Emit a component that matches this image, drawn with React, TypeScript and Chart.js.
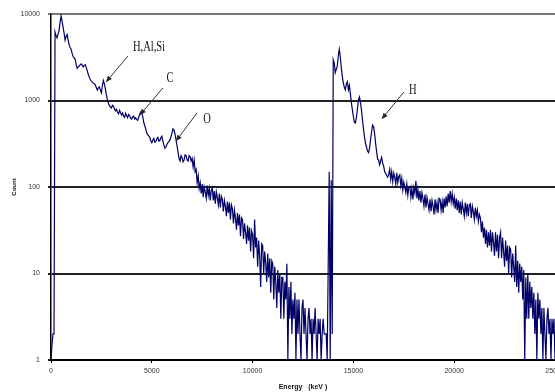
import React, { useEffect, useRef } from "react";
import { Chart, registerables } from "chart.js";

Chart.register(...registerables);

// ---- data -------------------------------------------------------------
const CHANNEL_WIDTH_KEV = 50;
const LOW_BAND_START_KEV = 0;
// counts per 50 keV channel, 0 .. 13700 keV (one row = 500 keV)
const LOW_BAND_COUNTS = [
  1, 1.5, 2, 2, 6200, 5600, 5300, 5900, 6400, 8000,
  9500, 8200, 7000, 6000, 5000, 5500, 5800, 5000, 4400, 4100,
  3900, 3500, 3200, 3100, 3000, 2600, 2350, 2450, 2500, 2600,
  2650, 2550, 2450, 2550, 2600, 2400, 2200, 2000, 1850, 1750,
  1680, 1620, 1580, 1560, 1520, 1400, 1320, 1400, 1440, 1320,
  1230, 1500, 1700, 1550, 1350, 1150, 1010, 930, 870, 840,
  820, 880, 860, 800, 760, 790, 730, 700, 770, 720,
  680, 720, 660, 640, 710, 670, 630, 690, 670, 620,
  610, 650, 660, 610, 630, 600, 590, 640, 690, 740,
  730, 650, 560, 510, 470, 420, 400, 390, 375, 340,
  325, 350, 365, 330, 335, 360, 375, 340, 345, 370,
  385, 340, 305, 280, 290, 310, 325, 335, 350, 380,
  420, 470, 455, 410, 355, 300, 255, 215, 200, 230,
  220, 195, 205, 235, 230, 205, 200, 230, 225, 200,
  215, 170, 205, 150, 160, 112, 135, 96, 112, 84,
  108, 76, 100, 88, 74, 104, 80, 96, 70, 92,
  98, 70, 90, 64, 88, 76, 62, 84, 58, 78,
  72, 52, 70, 60, 46, 68, 50, 66, 42, 62,
  56, 38, 54, 44, 32, 50, 36, 48, 27, 44,
  42, 25, 38, 30, 22, 36, 24, 34, 18, 31,
  28, 15, 42, 20, 26, 12, 24, 16, 7, 22,
  21, 10, 18, 13, 8, 17, 9, 15, 6, 14,
  13, 5, 12, 8, 4, 11, 6, 10, 3, 9,
  9, 3, 8, 5, 13, 1, 7, 3, 8, 2,
  5, 3, 6, 1, 5, 2, 5, 2, 1, 4,
  5, 2, 4, 2, 1, 3, 4, 2, 3, 1,
  3, 2, 4, 2, 1, 3, 2, 3, 1, 2,
  3, 2, 2, 2, 1,
];
const HIGH_BAND_START_KEV = 13800;
// counts per 50 keV channel, 13800 .. 25000 keV (one row = 500 keV)
const HIGH_BAND_COUNTS = [
  150, 1, 120, 2, 2950, 2700, 2100, 2300, 2500, 3300,
  3900, 3200, 2400, 1900, 1600, 1420, 1330, 1550, 1650, 1330,
  1500, 1200, 940, 780, 650, 560, 550, 640, 800, 1010,
  1100, 950, 780, 600, 470, 380, 320, 290, 260, 250,
  280, 350, 430, 520, 500, 420, 320, 260, 210, 205,
  180, 200, 220, 190, 175, 150, 145, 135, 130, 140,
  160, 122, 150, 115, 145, 130, 108, 146, 112, 132,
  138, 104, 126, 92, 114, 100, 86, 108, 80, 100,
  102, 76, 96, 72, 98, 84, 118, 74, 94, 70,
  90, 66, 86, 74, 60, 82, 58, 76, 64, 54,
  72, 52, 70, 60, 48, 72, 54, 66, 50, 74,
  72, 54, 68, 50, 74, 58, 78, 60, 84, 66,
  90, 68, 84, 64, 76, 56, 74, 54, 70, 50,
  68, 48, 66, 56, 46, 66, 50, 64, 46, 62,
  64, 44, 60, 52, 42, 58, 46, 54, 40, 48,
  44, 30, 40, 26, 34, 22, 32, 20, 30, 21,
  32, 18, 30, 23, 16, 30, 18, 28, 15, 26,
  30, 15, 26, 18, 12, 24, 14, 21, 10, 20,
  19, 9, 17, 12, 8, 21, 7, 14, 6, 13,
  8, 12, 5, 11, 1, 9, 3, 10, 3, 8,
  4, 7, 3, 6, 2, 5, 1, 6, 3, 5,
  2, 4, 1, 4, 2, 1, 3, 4, 2, 3,
  1, 3, 2, 3, 1,
];

const Y_TICKS = [1, 10, 100, 1000, 10000];
const X_TICKS = [0, 5000, 10000, 15000, 20000, 25000];
const X_TITLE = "Energy   (keV )";
const Y_TITLE = "Count";

const PEAK_LABELS = ["H,Al,Si", "C", "O", "H"];
const PEAK_LABEL_ENERGY = [4860, 5900, 7740, 17950];
const PEAK_LABEL_COUNT = [4150, 1820, 611, 1322];
const ARROW_FROM_ENERGY = [3820, 5550, 7240, 17500];
const ARROW_FROM_COUNT = [3270, 1395, 717, 1253];
const ARROW_TO_ENERGY = [2730, 4410, 6200, 16410];
const ARROW_TO_COUNT = [1635, 680, 340, 611];

// ---- helpers ----------------------------------------------------------
function toPoints(start: number, counts: number[]) {
  return counts.map((c, i) => ({ x: start + i * CHANNEL_WIDTH_KEV, y: c }));
}

const peakLabelPlugin = {
  id: "peakLabels",
  afterDatasetsDraw(chart: any) {
    const { ctx, scales } = chart;
    const xs = scales.x;
    const ys = scales.y;
    ctx.save();
    PEAK_LABELS.forEach((text, i) => {
      const tx = xs.getPixelForValue(PEAK_LABEL_ENERGY[i]);
      const ty = ys.getPixelForValue(PEAK_LABEL_COUNT[i]);
      ctx.save();
      ctx.translate(tx, ty);
      ctx.scale(0.75, 1);
      ctx.font = '14px "Liberation Serif", "DejaVu Serif", serif';
      ctx.fillStyle = "#111";
      ctx.textAlign = "center";
      ctx.textBaseline = "middle";
      ctx.fillText(text, 0, 0);
      ctx.restore();

      const x0 = xs.getPixelForValue(ARROW_FROM_ENERGY[i]);
      const y0 = ys.getPixelForValue(ARROW_FROM_COUNT[i]);
      const x1 = xs.getPixelForValue(ARROW_TO_ENERGY[i]);
      const y1 = ys.getPixelForValue(ARROW_TO_COUNT[i]);
      ctx.strokeStyle = "#333";
      ctx.lineWidth = 1;
      ctx.beginPath();
      ctx.moveTo(x0, y0);
      ctx.lineTo(x1, y1);
      ctx.stroke();
      const a = Math.atan2(y1 - y0, x1 - x0);
      const len = 6;
      const hw = 2.6;
      const bx = x1 - len * Math.cos(a);
      const by = y1 - len * Math.sin(a);
      ctx.fillStyle = "#222";
      ctx.beginPath();
      ctx.moveTo(x1, y1);
      ctx.lineTo(bx + hw * Math.sin(a), by - hw * Math.cos(a));
      ctx.lineTo(bx - hw * Math.sin(a), by + hw * Math.cos(a));
      ctx.closePath();
      ctx.fill();
    });
    ctx.restore();
  },
};

export default function App() {
  const ref = useRef<HTMLCanvasElement | null>(null);

  useEffect(() => {
    if (!ref.current) return;
    const data = [
      ...toPoints(LOW_BAND_START_KEV, LOW_BAND_COUNTS),
      ...toPoints(HIGH_BAND_START_KEV, HIGH_BAND_COUNTS),
    ];
    const chart = new Chart(ref.current, {
      type: "line",
      data: {
        datasets: [
          {
            label: "Count",
            data,
            borderColor: "#000066",
            borderWidth: 1.2,
            pointRadius: 0,
            fill: false,
            tension: 0,
          },
        ],
      },
      options: {
        animation: false,
        responsive: false,
        devicePixelRatio: 1,
        layout: { padding: { left: 0, right: 0, top: 14, bottom: 0 } },
        plugins: {
          legend: { display: false },
          tooltip: { enabled: false },
        },
        scales: {
          x: {
            type: "linear",
            min: 0,
            max: 25000,
            afterBuildTicks: (s: any) => {
              s.ticks = X_TICKS.map((v) => ({ value: v }));
            },
            afterFit: (s: any) => {
              s.height = 32;
              s.paddingRight = 0;
              s.paddingLeft = 0;
            },
            grid: {
              drawOnChartArea: false,
              drawTicks: true,
              tickLength: 3,
              color: "#000",
              lineWidth: 1,
            },
            border: { display: true, color: "#000", width: 2 },
            ticks: {
              maxRotation: 0,
              autoSkip: false,
              padding: 4,
              color: "#333",
              font: { family: '"Liberation Sans", Arial, sans-serif', size: 7 },
              callback: (v: any) => String(v),
            },
            title: {
              display: true,
              text: X_TITLE,
              color: "#111",
              padding: { top: 0, bottom: 1 },
              font: { family: '"Liberation Sans", Arial, sans-serif', size: 7, weight: "bold" },
            },
          },
          y: {
            type: "logarithmic",
            min: 1,
            max: 10000,
            afterBuildTicks: (s: any) => {
              s.ticks = Y_TICKS.map((v) => ({ value: v }));
            },
            afterFit: (s: any) => {
              s.width = 51;
            },
            grid: {
              drawTicks: true,
              tickLength: 3,
              color: (c: any) => (c.tick && c.tick.value === 10000 ? "#777" : "#222"),
              lineWidth: 2,
            },
            border: { display: true, color: "#000", width: 1.5 },
            ticks: {
              autoSkip: false,
              padding: 8,
              color: "#333",
              font: { family: '"Liberation Sans", Arial, sans-serif', size: 7 },
              callback: (v: any) => String(v),
            },
            title: {
              display: true,
              text: Y_TITLE,
              color: "#111",
              padding: { top: 11, bottom: 0 },
              font: { family: '"Liberation Sans", Arial, sans-serif', size: 6, weight: "bold" },
            },
          },
        },
      },
      plugins: [peakLabelPlugin],
    } as any);
    return () => chart.destroy();
  }, []);

  return (
    <div
      style={{
        position: "fixed",
        left: 0,
        top: 0,
        width: 555,
        height: 392,
        overflow: "hidden",
        background: "#fff",
      }}
    >
      <canvas ref={ref} width={555} height={392} style={{ width: 555, height: 392, display: "block" }} />
    </div>
  );
}
